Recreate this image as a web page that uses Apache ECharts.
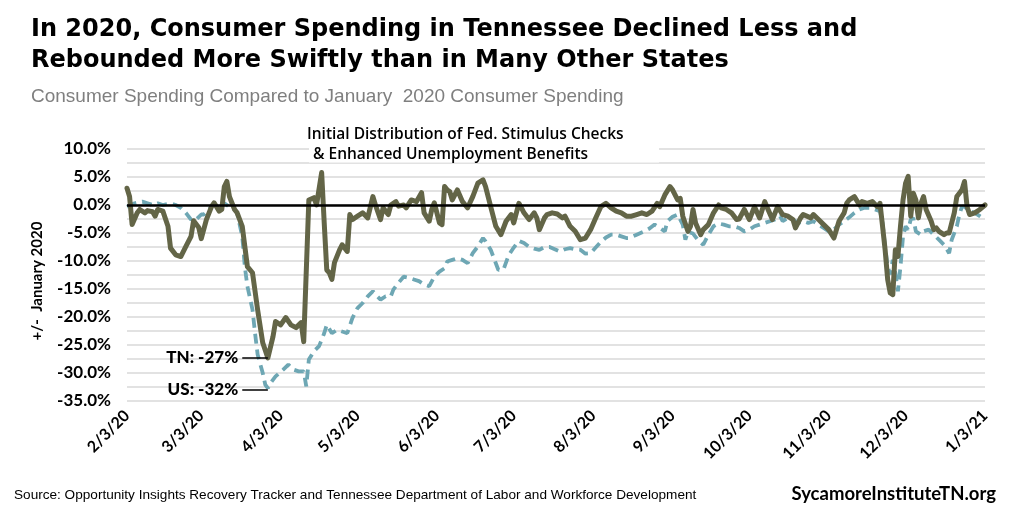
<!DOCTYPE html>
<html><head><meta charset="utf-8">
<script src="https://cdn.jsdelivr.net/npm/echarts@6/dist/echarts.min.js"></script>
<style>html,body{margin:0;padding:0;background:#fff}#c{width:1024px;height:512px}</style>
</head><body><div id="c"></div>
<script>
// ---- data ----
var startDate = [2020, 1, 3];   // 2/3/20, daily categories
var dayCount = 336;             // through 1/3/21
var tickLabels = ['2/3/20','3/3/20','4/3/20','5/3/20','6/3/20','7/3/20','8/3/20','9/3/20','10/3/20','11/3/20','12/3/20','1/3/21'];
var yTicks = [10, 5, 0, -5, -10, -15, -20, -25, -30, -35];
// [day index since 2/3/20, % vs January 2020]
var tnPoints = [[0,3.0],[1,1.5],[2,-3.5],[4,-1.4],[5,-0.8],[7,-1.4],[8,-1.0],[10,-1.2],[11,-2.0],[12,-0.8],[14,-1.1],[16,-3.8],[17,-7.7],[19,-8.9],[21,-9.2],[23,-7.4],[25,-5.6],[26,-2.8],[28,-4.0],[29,-6.0],[31,-2.6],[33,-0.3],[34,0.4],[36,-1.1],[37,-0.8],[38,3.3],[39,4.2],[40,1.5],[42,-0.8],[43,-1.4],[45,-3.8],[46,-7.4],[47,-11.0],[49,-12.1],[51,-18.7],[53,-24.6],[55,-27.3],[57,-23.5],[58,-20.8],[60,-21.4],[62,-20.1],[64,-21.4],[66,-21.9],[68,-21.0],[69,-24.4],[71,0.9],[73,1.3],[74,0.0],[76,5.8],[77,-3.2],[78,-11.6],[79,-12.1],[80,-13.3],[81,-10.3],[83,-8.0],[84,-7.1],[86,-8.3],[87,-1.7],[88,-2.6],[90,-2.0],[92,-1.4],[94,-2.3],[96,1.5],[97,0.0],[99,-2.6],[100,-0.5],[102,-1.7],[103,0.0],[105,0.6],[106,-0.2],[108,0.0],[109,-0.5],[111,0.9],[113,0.6],[115,2.2],[116,-1.4],[118,-2.9],[119,-0.8],[120,0.4],[122,-3.2],[123,-3.5],[124,3.3],[125,2.7],[126,2.4],[127,0.9],[129,2.7],[131,0.6],[133,-0.5],[135,1.5],[137,3.9],[139,4.5],[140,3.3],[142,-0.3],[144,-3.8],[146,-5.3],[148,-2.9],[150,-1.7],[151,-3.2],[153,0.3],[154,-0.5],[155,-1.4],[157,-2.6],[159,-1.4],[160,-2.3],[161,-4.4],[163,-2.3],[164,-1.7],[166,-1.4],[168,-1.6],[170,-2.3],[171,-2.0],[173,-3.8],[175,-4.7],[177,-6.2],[179,-5.9],[181,-4.4],[183,-2.3],[185,-0.3],[187,0.3],[189,-0.5],[191,-1.1],[193,-1.4],[195,-2.0],[197,-2.0],[199,-1.7],[201,-1.4],[203,-1.7],[205,-1.1],[207,0.3],[208,-0.3],[210,1.8],[212,3.3],[213,2.7],[215,0.9],[216,1.2],[217,-2.0],[219,-4.7],[220,-3.8],[221,-0.8],[222,-3.2],[224,-5.3],[225,-4.4],[227,-3.5],[229,-1.4],[231,0.0],[232,-0.5],[234,-0.8],[236,-1.4],[238,-2.6],[239,-2.5],[241,-0.8],[243,-2.6],[245,-0.3],[247,-2.3],[249,0.6],[250,-0.5],[252,-2.6],[254,-0.3],[256,-1.7],[258,-2.0],[260,-2.6],[261,-4.1],[263,-2.3],[264,-1.7],[267,-2.3],[268,-1.7],[270,-2.6],[272,-3.5],[274,-4.4],[276,-5.9],[278,-2.9],[280,-1.4],[281,0.3],[282,0.9],[284,1.5],[286,0.0],[287,0.6],[289,0.3],[291,0.6],[293,-0.3],[294,0.3],[295,-3.8],[296,-8.0],[297,-13.3],[298,-15.7],[299,-16.0],[300,-8.0],[301,-9.2],[302,-3.8],[303,0.9],[304,3.9],[305,5.1],[306,-2.0],[307,2.1],[308,0.9],[309,-2.3],[310,0.3],[311,1.5],[312,-0.8],[314,-2.9],[315,-4.4],[316,-4.1],[317,-4.7],[319,-5.3],[320,-5.0],[321,-5.0],[323,-1.4],[324,1.5],[325,2.1],[326,2.7],[327,4.2],[328,-0.3],[329,-1.7],[331,-1.4],[333,-0.8],[335,0.0]];
var usPoints = [[0,-0.3],[3,0.3],[6,0.6],[8,0.3],[10,0.0],[12,0.3],[14,0.0],[17,0.3],[19,0.0],[21,-0.5],[23,-1.4],[25,-2.6],[26,-2.3],[27,-2.6],[29,-1.7],[30,-1.7],[32,-0.8],[34,0.3],[35,-0.3],[36,-0.5],[38,0.3],[40,-0.3],[42,-0.8],[43,-1.4],[45,-5.6],[46,-11.0],[47,-14.5],[49,-18.7],[50,-22.9],[51,-26.7],[53,-30.0],[54,-32.1],[55,-32.7],[56,-31.8],[58,-30.6],[61,-29.4],[63,-28.5],[65,-29.4],[67,-29.7],[69,-29.7],[70,-32.4],[71,-27.6],[73,-26.1],[75,-25.2],[77,-22.9],[78,-21.4],[80,-22.9],[82,-22.3],[84,-22.6],[86,-22.9],[88,-20.2],[90,-18.4],[92,-17.5],[94,-16.3],[96,-15.4],[97,-16.0],[99,-16.9],[101,-16.3],[103,-16.3],[104,-15.1],[106,-13.9],[108,-12.8],[110,-13.0],[112,-13.3],[114,-13.6],[116,-14.2],[118,-14.5],[120,-12.8],[122,-11.9],[124,-11.3],[125,-10.1],[127,-9.8],[129,-9.5],[131,-9.8],[133,-10.4],[135,-8.6],[137,-7.4],[139,-5.9],[140,-6.5],[142,-8.0],[144,-10.4],[145,-11.6],[147,-11.5],[149,-9.0],[151,-7.6],[153,-6.4],[155,-6.8],[157,-7.5],[159,-7.8],[161,-8.0],[163,-7.5],[165,-7.5],[167,-7.9],[169,-8.3],[171,-7.9],[173,-7.7],[175,-7.9],[177,-8.0],[179,-8.7],[181,-8.6],[183,-7.6],[185,-6.6],[187,-5.8],[189,-5.3],[191,-5.3],[193,-5.6],[195,-5.9],[196,-5.9],[199,-5.3],[202,-4.7],[204,-4.2],[206,-3.5],[208,-4.1],[210,-4.7],[211,-2.9],[213,-2.1],[215,-1.7],[217,-3.5],[218,-6.2],[219,-4.8],[221,-5.1],[223,-6.3],[225,-7.1],[227,-5.3],[229,-3.8],[231,-3.3],[233,-3.5],[235,-3.8],[237,-3.8],[239,-4.1],[241,-4.7],[243,-4.4],[245,-3.8],[247,-3.5],[249,-3.2],[251,-2.9],[253,-2.6],[255,-2.0],[256,-2.9],[258,-2.3],[260,-2.6],[262,-3.2],[264,-2.9],[266,-3.2],[268,-2.9],[270,-3.5],[272,-4.1],[274,-4.7],[276,-4.4],[278,-3.5],[280,-2.9],[282,-2.2],[284,-1.4],[286,-0.8],[288,-0.5],[290,-0.5],[292,-0.8],[294,-1.1],[295,-3.2],[296,-7.4],[297,-11.0],[298,-12.4],[299,-9.8],[300,-12.1],[301,-15.4],[302,-11.0],[303,-5.6],[304,-3.8],[305,-4.4],[306,-2.6],[307,-2.3],[308,-4.7],[310,-5.3],[311,-4.7],[313,-4.4],[315,-5.3],[317,-6.2],[319,-7.1],[321,-8.6],[322,-6.2],[324,-3.8],[325,-1.7],[326,-0.3],[327,-0.3],[329,-1.1],[331,-1.4],[333,-2.0],[335,-2.6]];
var stimulusDay = 70;   // 4/13/20
var tnLow = -27.3, usLow = -33.0;

// ---- categories ----
var categories = [];
for (var i = 0; i < dayCount; i++) {
  var d = new Date(startDate[0], startDate[1], startDate[2] + i);
  categories.push((d.getMonth() + 1) + '/' + d.getDate() + '/' + String(d.getFullYear()).slice(2));
}

var chart = echarts.init(document.getElementById('c'), null, {renderer: 'canvas'});
var labelFont = {fontFamily: 'Lato', fontWeight: 'bold', fontSize: 16, color: '#000'};
chart.setOption({
  backgroundColor: '#fff',
  animation: false,
  grid: {left: 127, right: 39, top: 149, bottom: 111},
  xAxis: {
    type: 'category', data: categories, boundaryGap: false,
    axisLine: {show: false}, axisTick: {show: false}, splitLine: {show: false},
    axisLabel: Object.assign({
      rotate: 45, margin: 12, interval: function (idx, val) { return tickLabels.indexOf(val) >= 0; }
    }, labelFont)
  },
  yAxis: {
    type: 'value', min: -35, max: 10, interval: 5,
    name: '+/-  January 2020', nameLocation: 'middle', nameGap: 82, nameRotate: 90,
    nameTextStyle: {fontFamily: 'Lato', fontWeight: 'bold', fontSize: 15, color: '#000', padding: [0, 12, 0, 0]},
    axisLine: {show: false}, axisTick: {show: false},
    axisLabel: Object.assign({margin: 16, formatter: function (v) { return yTicks.indexOf(v) >= 0 ? v.toFixed(1) + '%' : ''; }}, labelFont, {fontSize: 17}),
    splitLine: {show: true, lineStyle: {color: '#d9d9d9', width: 1.5}},
    minorTick: {show: false, splitNumber: 2},
    minorSplitLine: {show: true, lineStyle: {color: '#d9d9d9', width: 1.5}}
  },
  series: [
    {
      name: 'US', type: 'line', data: usPoints, showSymbol: false, symbol: 'none', clip: false,
      lineStyle: {color: '#6ea7b4', width: 3.8, type: [10, 6]}, z: 2,
      markLine: {
        silent: true, symbol: 'none', animation: false,
        lineStyle: {color: '#000', width: 1.5, type: 'solid'},
        label: {show: true, position: 'start', distance: 4, formatter: 'US: -32%', fontFamily: 'Lato', fontWeight: 900, fontSize: 17, color: '#000'},
        data: [[{coord: [45, usLow]}, {coord: [55, usLow]}]]
      }
    },
    {
      name: 'TN', type: 'line', data: tnPoints, showSymbol: false, symbol: 'none', clip: false,
      lineStyle: {color: '#636547', width: 5, join: 'round', cap: 'round'}, z: 3,
      markLine: {
        silent: true, symbol: 'none', animation: false,
        lineStyle: {color: '#000', width: 1.5, type: 'solid'},
        label: {show: true, position: 'start', distance: 4, formatter: 'TN: -27%', fontFamily: 'Lato', fontWeight: 900, fontSize: 17, color: '#000'},
        data: [[{coord: [45, tnLow]}, {coord: [55, tnLow]}]]
      }
    },
    {
      name: 'ref', type: 'line', data: [], clip: false, z: 1,
      markLine: {
        silent: true, symbol: 'none', animation: false, label: {show: false},
        data: [
          [{coord: [0, 0], lineStyle: {color: '#000', width: 2.5, type: 'solid'}}, {coord: [dayCount - 1, 0]}],
          [{coord: [stimulusDay, 10.4], lineStyle: {color: '#000', width: 1, type: 'solid'}}, {coord: [stimulusDay, -38]}]
        ]
      }
    }
  ],
  graphic: [
    {type: 'text', left: 31, top: 14, style: {text: 'In 2020, Consumer Spending in Tennessee Declined Less and\nRebounded More Swiftly than in Many Other States', font: 'bold 24px "DejaVu Sans"', fill: '#000', lineHeight: 31}},
    {type: 'text', left: 31, top: 87, style: {text: 'Consumer Spending Compared to January  2020 Consumer Spending', font: '19px "Liberation Sans", Arial, sans-serif', fill: '#7f7f7f'}},
    {type: 'text', left: 307, top: 127, z: 100, style: {text: 'Initial Distribution of Fed. Stimulus Checks', font: '600 15.5px "Open Sans"', fill: '#000'}},
    {type: 'text', left: 309, top: 147, z: 100, style: {text: ' & Enhanced Unemployment Benefits', font: '600 15.5px "Open Sans"', fill: '#000', lineHeight: 15, backgroundColor: '#fff', padding: [0, 71, 0, 0]}},
    {type: 'text', left: 14, top: 488, style: {text: 'Source: Opportunity Insights Recovery Tracker and Tennessee Department of Labor and Workforce Development', font: '13.6px "Liberation Sans", sans-serif', fill: '#000'}},
    {type: 'text', right: 28, top: 485, style: {text: 'SycamoreInstituteTN.org', font: 'bold 18.5px Lato', fill: '#000'}}
  ]
});
</script></body></html>
